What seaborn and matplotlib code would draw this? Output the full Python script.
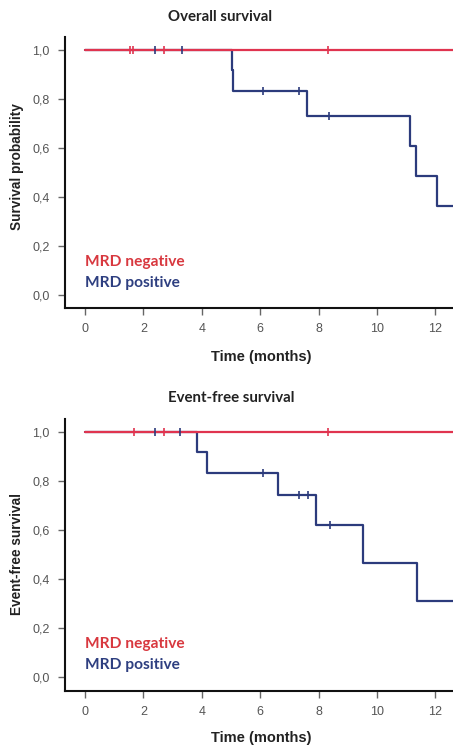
import numpy as np
import pandas as pd
import matplotlib
matplotlib.use("Agg")
import matplotlib.pyplot as plt
import seaborn as sns

# ---------------- data ----------------
os_pos_time = [0, 5.02, 5.08, 7.61, 11.13, 11.34, 12.07, 12.8]
os_pos_surv = [1.0, 0.917, 0.833, 0.729, 0.607, 0.486, 0.364, 0.364]
os_neg_time = [0, 12.8]
os_neg_surv = [1.0, 1.0]
os_pos_cens_time = [2.40, 3.31, 6.11, 7.34, 8.37]
os_pos_cens_surv = [1.0, 1.0, 0.833, 0.833, 0.729]
os_neg_cens_time = [1.54, 1.65, 2.71, 8.33]
os_neg_cens_surv = [1.0, 1.0, 1.0, 1.0]

efs_pos_time = [0, 3.82, 4.19, 6.62, 7.92, 9.52, 11.36, 12.8]
efs_pos_surv = [1.0, 0.917, 0.833, 0.741, 0.618, 0.463, 0.309, 0.309]
efs_neg_time = [0, 12.8]
efs_neg_surv = [1.0, 1.0]
efs_pos_cens_time = [2.40, 3.25, 6.11, 7.34, 7.65, 8.39]
efs_pos_cens_surv = [1.0, 1.0, 0.833, 0.741, 0.741, 0.618]
efs_neg_cens_time = [1.68, 2.71, 8.33]
efs_neg_cens_surv = [1.0, 1.0, 1.0]

x_ticks = [0, 2, 4, 6, 8, 10, 12]
y_ticks = [0.0, 0.2, 0.4, 0.6, 0.8, 1.0]
y_tick_labels = ["0,0", "0,2", "0,4", "0,6", "0,8", "1,0"]
titles = ["Overall survival", "Event-free survival"]
ylabels = ["Survival probability", "Event-free survival"]
xlabel = "Time (months)"
legend_labels = ["MRD negative", "MRD positive"]

# ---------------- style ----------------
sns.set_style("ticks")
plt.rcParams["font.family"] = ["Liberation Sans", "DejaVu Sans"]

RED = "#e0344f"
BLUE = "#2c3b7c"
RED_TXT = "#d8383f"
BLUE_TXT = "#2e3f80"
TICK_C = "#555555"

W, H = 453, 748
fig = plt.figure(figsize=(W / 100, H / 100), dpi=100)

panels = [
    dict(rect=(65, 37, 453, 308), ylim=(-0.053, 1.053),
         pos=(os_pos_time, os_pos_surv), neg=(os_neg_time, os_neg_surv),
         pc=(os_pos_cens_time, os_pos_cens_surv), nc=(os_neg_cens_time, os_neg_cens_surv),
         title_y=17, xlabel_y=357, ylabel_y=167, leg_y=(262, 283)),
    dict(rect=(65, 419, 453, 691), ylim=(-0.057, 1.052),
         pos=(efs_pos_time, efs_pos_surv), neg=(efs_neg_time, efs_neg_surv),
         pc=(efs_pos_cens_time, efs_pos_cens_surv), nc=(efs_neg_cens_time, efs_neg_cens_surv),
         title_y=398, xlabel_y=738, ylabel_y=554, leg_y=(644, 665)),
]

for i, p in enumerate(panels):
    x0, y0, x1, y1 = p["rect"]
    ax = fig.add_axes([x0 / W, 1 - y1 / H, (x1 - x0) / W, (y1 - y0) / H])
    # x: 0 at px 85, 29.2 px per month
    ax.set_xlim((x0 - 85) / 29.2, (x1 - 85) / 29.2)
    ax.set_ylim(*p["ylim"])

    sns.lineplot(x=p["pos"][0], y=p["pos"][1], ax=ax, color=BLUE, lw=1.6,
                 drawstyle="steps-post", estimator=None, sort=False)
    sns.lineplot(x=p["neg"][0], y=p["neg"][1], ax=ax, color=RED, lw=1.6,
                 drawstyle="steps-post", estimator=None, sort=False)
    sns.scatterplot(x=p["nc"][0], y=p["nc"][1], ax=ax, marker="|", color=RED,
                    s=30, linewidth=1.2, zorder=4)
    sns.scatterplot(x=p["pc"][0], y=p["pc"][1], ax=ax, marker="|", color=BLUE,
                    s=30, linewidth=1.2, zorder=4)

    ax.set_xticks(x_ticks)
    ax.set_xticklabels([str(t) for t in x_ticks])
    ax.set_yticks(y_ticks)
    ax.set_yticklabels(y_tick_labels)
    ax.tick_params(axis="both", colors="#666666", labelcolor=TICK_C, length=5,
                   width=1.0, labelsize=9, pad=6)
    for s in ["top", "right"]:
        ax.spines[s].set_visible(False)
    for s in ["left", "bottom"]:
        ax.spines[s].set_linewidth(1.5)
        ax.spines[s].set_color("#111111")

    ax.set_ylabel("")
    ax.set_xlabel("")
    fig.text(17 / W, 1 - p["ylabel_y"] / H, ylabels[i], ha="center", va="center",
             rotation=90, fontsize=9.8, fontweight="bold", color="#222222")
    fig.text(261 / W, 1 - p["xlabel_y"] / H, xlabel, ha="center", va="center",
             fontsize=10.5, fontweight="bold", color="#222222")
    fig.text(168 / W, 1 - p["title_y"] / H, titles[i], ha="left", va="center",
             fontsize=10.8, fontweight="bold", color="#222222", family=["Lato", "DejaVu Sans"])
    fig.text(85 / W, 1 - p["leg_y"][0] / H, legend_labels[0], ha="left", va="center",
             fontsize=11.2, fontweight="bold", color=RED_TXT, family=["Lato", "DejaVu Sans"])
    fig.text(85 / W, 1 - p["leg_y"][1] / H, legend_labels[1], ha="left", va="center",
             fontsize=11.2, fontweight="bold", color=BLUE_TXT, family=["Lato", "DejaVu Sans"])

fig.savefig("out.png", dpi=100)
